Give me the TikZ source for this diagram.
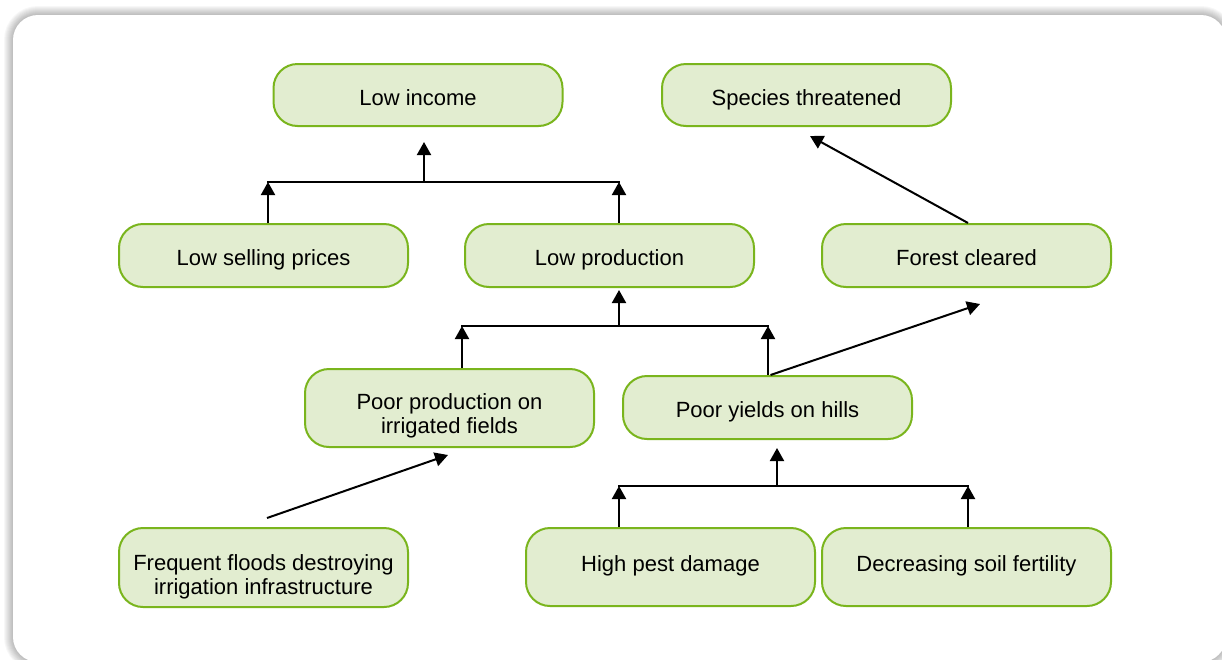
\documentclass[tikz,border=0pt]{standalone}
\usepackage{fontspec}
\setmainfont{Liberation Sans}
\usetikzlibrary{arrows.meta,calc}
\definecolor{boxfill}{RGB}{226,237,208}
\definecolor{boxline}{RGB}{122,181,29}
\begin{document}
\begin{tikzpicture}[x=1pt,y=-1pt,
  box/.style={draw=boxline, fill=boxfill, line width=2pt, rounded corners=24pt,
    minimum width=289pt, inner sep=0pt, align=center,
    font=\fontsize{22}{24}\selectfont, text=black,
    text height=20pt, text depth=0pt},
  conn/.style={line width=2pt, black},
  arr/.style={conn, -{Triangle[length=13pt,width=14pt]}},
  shadowline/.style={black, opacity=0.03, rounded corners=25pt}
]
\useasboundingbox (0,0) rectangle (1222,659);
% outer panel with soft shadow
\foreach \w in {2,4,...,18} {
  \draw[shadowline, line width=\w pt] (13,15) rectangle (1226,662);
}
\fill[white, rounded corners=25pt] (13,15) rectangle (1226,662);

% nodes
\node[box, minimum height=62pt] (inc) at (418,95) {Low income};
\node[box, minimum height=62pt] (spe) at (806.5,95) {Species threatened};
\node[box, minimum height=63pt] (sel) at (263.5,255.5) {Low selling prices};
\node[box, minimum height=63pt] (pro) at (609.5,255.5) {Low production};
\node[box, minimum height=63pt] (for) at (966.5,255.5) {Forest cleared};
\node[box, minimum height=78pt, text height=50pt] (irr) at (449.5,408) {Poor production on\\irrigated fields};
\node[box, minimum height=63pt] (hil) at (767.5,407.5) {Poor yields on hills};
\node[box, minimum height=79pt, text height=53pt] (flo) at (263.5,567.5) {Frequent floods destroying\\irrigation infrastructure};
\node[box, minimum height=78pt, text height=16pt, text depth=8pt] (pes) at (670.5,567) {High pest damage};
\node[box, minimum height=78pt, text height=16pt, text depth=8pt] (soi) at (966.5,567) {Decreasing soil fertility};

% tree 1
\coordinate (t1a) at (268,182);
\coordinate (t1b) at (619,182);
\coordinate (t1m) at (424,182);
\coordinate (t1t) at (424,142);
\draw[conn, line cap=rect] (t1a) -- (t1b);
\draw[arr] (t1a |- sel.north) -- (t1a);
\draw[arr] (t1b |- pro.north) -- (t1b);
\draw[arr] (t1m) -- (t1t);

% tree 2
\coordinate (t2a) at (462,326);
\coordinate (t2b) at (768,326);
\coordinate (t2m) at (619,326);
\draw[conn, line cap=rect] (t2a) -- (t2b);
\draw[arr] (t2a |- irr.north) -- (t2a);
\draw[arr] (t2b |- hil.north) -- (t2b);
\draw[arr, shorten >=2pt] (t2m) -- (t2m |- pro.south);

% tree 3
\coordinate (t3a) at (619,486);
\coordinate (t3b) at (968,486);
\coordinate (t3m) at (777,486);
\coordinate (t3t) at (777,448);
\draw[conn, line cap=rect] (t3a) -- (t3b);
\draw[arr] (t3a |- pes.north) -- (t3a);
\draw[arr] (t3b |- soi.north) -- (t3b);
\draw[arr] (t3m) -- (t3t);

% diagonal links
\coordinate (d1t) at (980,304);
\coordinate (d2t) at (810,136);
\coordinate (d3t) at (448,455);
\draw[arr] ($(hil.north)+(3,0)$) -- (d1t);
\draw[arr] ($(for.north)+(1.5,0)$) -- (d2t);
\draw[arr] ($(flo.north)+(3.5,-9)$) -- (d3t);
\end{tikzpicture}
\end{document}
